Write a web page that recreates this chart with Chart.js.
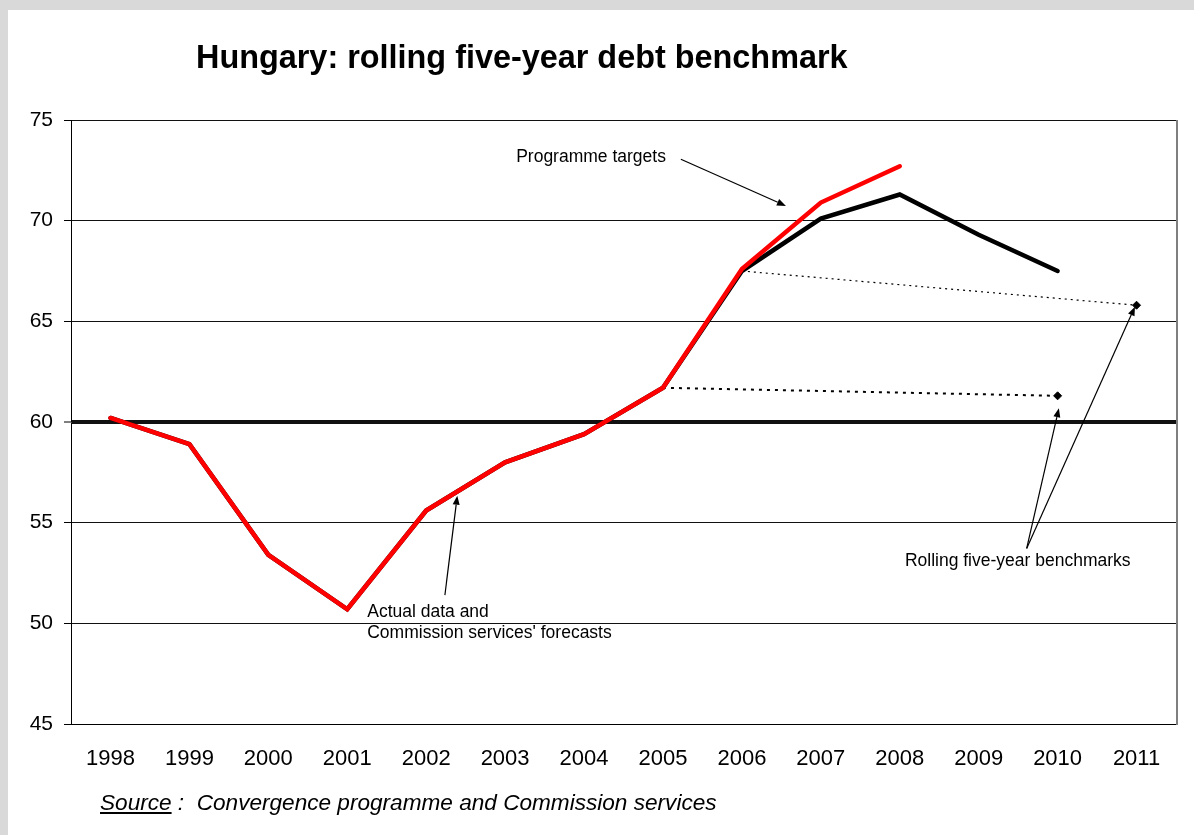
<!DOCTYPE html>
<html>
<head>
<meta charset="utf-8">
<title>Hungary: rolling five-year debt benchmark</title>
<script src="https://cdn.jsdelivr.net/npm/chart.js@4.4.1/dist/chart.umd.min.js"></script>
<style>
  body { margin: 0; background: #d9d9d9; width: 1194px; height: 835px; overflow: hidden; position: relative; }
  #marco { position: absolute; left: 8px; top: 10px; width: 1186px; height: 825px; background: #fff; }
  #grafDeuda { position: absolute; left: 0; top: 0; }
  #titulo { position: absolute; left: 188px; top: 31px; font: bold 32.4px/32px "Liberation Sans", Arial, sans-serif; color: #000; white-space: pre; }
  #fuente { position: absolute; left: 92px; top: 782px; font: italic 22.6px/22px "Liberation Sans", Arial, sans-serif; color: #000; white-space: pre; }
</style>
</head>
<body>
<div id="marco">
  <canvas id="grafDeuda" width="1186" height="825" style="width:1186px;height:825px"></canvas>
  <div id="titulo">Hungary: rolling five-year debt benchmark</div>
  <div id="fuente"><u>Source</u> :  Convergence programme and Commission services</div>
</div>
<script>
// datos de deuda (% del PIB)
const years = ['1998', '1999', '2000', '2001', '2002', '2003', '2004', '2005', '2006', '2007', '2008', '2009', '2010', '2011'];
const commissionForecast = [60.2, 58.9, 53.4, 50.7, 55.6, 58.0, 59.4, 61.7, 67.5, 70.1, 71.3, 69.3, 67.5, null];
const programmeTargets = [60.2, 58.9, 53.4, 50.7, 55.6, 58.0, 59.4, 61.7, 67.6, 70.9, 72.7, null, null, null];
const benchmark2005 = [null, null, null, null, null, null, null, 61.7, null, null, null, null, 61.3, null];
const benchmark2006 = [null, null, null, null, null, null, null, null, 67.5, null, null, null, null, 65.8];
const yMin = 45, yMax = 75, yStep = 5;
const referenceLevel = 60;

// notas y flechas, en coordenadas de datos (indice de anio, valor)
const notes = [
  { lines: ['Programme targets'], at: [5.14, 72.93] },
  { lines: ['Actual data and', "Commission services' forecasts"], at: [3.253, 50.33] },
  { lines: ['Rolling five-year benchmarks'], at: [10.065, 52.84] }
];
const arrows = [
  { from: [7.227, 73.05], to: [8.558, 70.73] },
  { from: [4.237, 51.40], to: [4.394, 56.34] },
  { from: [11.608, 53.72], to: [12.016, 60.68] },
  { from: [11.608, 53.72], to: [12.980, 65.73] }
];

const fontFamily = '"Liberation Sans", Arial, sans-serif';

// solo el ultimo punto de cada benchmark lleva rombo
function endMarker(data) {
  let last = -1;
  data.forEach((v, i) => { if (v !== null) last = i; });
  return data.map((v, i) => (i === last ? 4 : 0));
}

const notasPlugin = {
  id: 'notas',
  afterDatasetsDraw(chart) {
    const { ctx, chartArea, scales: { x, y } } = chart;
    ctx.save();

    // borde derecho gris
    ctx.fillStyle = '#7f7f7f';
    ctx.fillRect(chartArea.right, chartArea.top, 2, chartArea.bottom - chartArea.top + 1);

    // textos
    ctx.fillStyle = '#000';
    ctx.font = '17.5px ' + fontFamily;
    ctx.textAlign = 'left';
    ctx.textBaseline = 'alphabetic';
    notes.forEach(n => {
      const px = x.getPixelForValue(n.at[0]);
      const py = y.getPixelForValue(n.at[1]);
      n.lines.forEach((t, i) => ctx.fillText(t, px, py + i * 21.3));
    });

    // flechas
    ctx.strokeStyle = '#000';
    ctx.lineWidth = 1.2;
    arrows.forEach(a => {
      const x0 = x.getPixelForValue(a.from[0]), y0 = y.getPixelForValue(a.from[1]);
      const x1 = x.getPixelForValue(a.to[0]), y1 = y.getPixelForValue(a.to[1]);
      const ang = Math.atan2(y1 - y0, x1 - x0);
      const len = 9, half = 3.5;
      const bx = x1 - len * Math.cos(ang), by = y1 - len * Math.sin(ang);
      ctx.beginPath();
      ctx.moveTo(x0, y0);
      ctx.lineTo(bx, by);
      ctx.stroke();
      ctx.beginPath();
      ctx.moveTo(x1, y1);
      ctx.lineTo(bx + half * Math.sin(ang), by - half * Math.cos(ang));
      ctx.lineTo(bx - half * Math.sin(ang), by + half * Math.cos(ang));
      ctx.closePath();
      ctx.fill();
    });
    ctx.restore();
  }
};

function dibujarGraficoDeuda() {
  const ctx = document.getElementById('grafDeuda');
  new Chart(ctx, {
    type: 'line',
    data: {
      labels: years,
      datasets: [
        {
          label: 'Programme targets',
          data: programmeTargets,
          borderColor: '#ff0000',
          borderWidth: 4.5,
          borderCapStyle: 'round',
          borderJoinStyle: 'miter',
          pointRadius: 0,
          order: 0
        },
        {
          label: "Actual data and Commission services' forecasts",
          data: commissionForecast,
          borderColor: '#000',
          borderWidth: 4.5,
          borderCapStyle: 'round',
          borderJoinStyle: 'miter',
          pointRadius: 0,
          order: 1
        },
        {
          label: 'Benchmark 2005',
          data: benchmark2005,
          borderColor: '#000',
          borderWidth: 2,
          borderDash: [3, 5],
          spanGaps: true,
          pointStyle: 'rectRot',
          pointRadius: endMarker(benchmark2005),
          pointBackgroundColor: '#000',
          pointBorderColor: '#000',
          pointBorderWidth: 1,
          order: 2
        },
        {
          label: 'Benchmark 2006',
          data: benchmark2006,
          borderColor: '#000',
          borderWidth: 1.2,
          borderDash: [2, 4],
          spanGaps: true,
          pointStyle: 'rectRot',
          pointRadius: endMarker(benchmark2006),
          pointBackgroundColor: '#000',
          pointBorderColor: '#000',
          pointBorderWidth: 1,
          order: 2
        }
      ]
    },
    options: {
      responsive: false,
      animation: false,
      devicePixelRatio: 1,
      layout: { padding: { top: 110, right: 18, left: 0, bottom: 0 } },
      plugins: {
        legend: { display: false },
        tooltip: { enabled: false },
        title: { display: false }
      },
      scales: {
        x: {
          offset: true,
          grid: { display: false, drawTicks: false },
          border: { display: true, color: '#000', width: 1 },
          ticks: {
            color: '#000',
            font: { family: fontFamily, size: 22 },
            padding: 22,
            maxRotation: 0,
            autoSkip: false
          },
          afterFit(scale) { scale.height = 111; }
        },
        y: {
          min: yMin,
          max: yMax,
          ticks: {
            stepSize: yStep,
            color: '#000',
            font: { family: fontFamily, size: 21 },
            padding: 11
          },
          grid: {
            color: '#111',
            lineWidth: c => (c.tick && c.tick.value === referenceLevel ? 4 : 1),
            tickLength: 7,
            tickColor: '#000',
            tickWidth: 1
          },
          border: { color: '#000', width: 1 },
          afterFit(scale) { scale.width = 63; }
        }
      }
    },
    plugins: [notasPlugin]
  });
}

dibujarGraficoDeuda();
</script>
</body>
</html>
